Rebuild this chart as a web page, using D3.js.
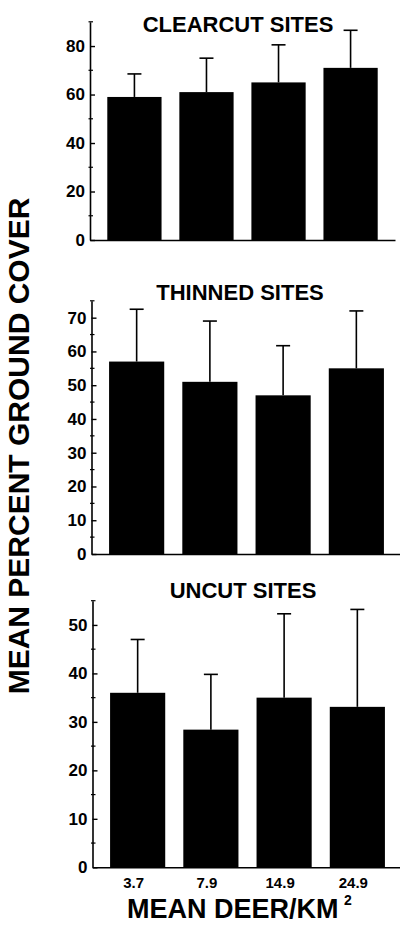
<!DOCTYPE html>
<html>
<head>
<meta charset="utf-8">
<script src="https://cdn.jsdelivr.net/npm/d3@7"></script>
<style>
  html, body { margin: 0; padding: 0; background: #fff; }
  svg { display: block; }
  text { font-family: "Liberation Sans", Arial, Helvetica, sans-serif; font-weight: bold; fill: #000; }
</style>
</head>
<body>
<svg id="chart" width="400" height="930"></svg>
<script>
// Deer density classes (mean deer per km²)
const categories = ["3.7", "7.9", "14.9", "24.9"];

// Mean percent ground cover and standard deviation, by stand type
const clearcutMeans = [59, 61, 65, 71];
const clearcutSD    = [9.5, 14, 15.5, 15.5];
const thinnedMeans  = [57, 51, 47, 55];
const thinnedSD     = [15.5, 18, 14.7, 17];
const uncutMeans    = [36, 28.4, 35, 33.1];
const uncutSD       = [11, 11.4, 17.3, 20.1];

// Y-axis ticks per panel
const clearcutTicks = [0, 20, 40, 60, 80];
const clearcutMinor = [10, 30, 50, 70, 90];
const thinnedTicks  = [0, 10, 20, 30, 40, 50, 60, 70];
const thinnedMinor  = [5, 15, 25, 35, 45, 55, 65, 75];
const uncutTicks    = [0, 10, 20, 30, 40, 50];
const uncutMinor    = [5, 15, 25, 35, 45, 55];

const panels = [
  { title: "CLEARCUT SITES", means: clearcutMeans, sd: clearcutSD, yMax: 90,
    ticks: clearcutTicks, minor: clearcutMinor,
    x0: 90, width: 305, base: 240, top: 21.8, titleX: 238, titleY: 32 },
  { title: "THINNED SITES", means: thinnedMeans, sd: thinnedSD, yMax: 75,
    ticks: thinnedTicks, minor: thinnedMinor,
    x0: 91.5, width: 310, base: 554, top: 300.8, titleX: 240, titleY: 300 },
  { title: "UNCUT SITES", means: uncutMeans, sd: uncutSD, yMax: 55,
    ticks: uncutTicks, minor: uncutMinor,
    x0: 92.5, width: 310, base: 867.3, top: 600.7, titleX: 243, titleY: 598, showX: true }
];

const svg = d3.select("#chart");

panels.forEach(p => {
  const x = d3.scaleBand()
    .domain(categories)
    .range([p.x0, p.x0 + p.width])
    .paddingInner(0.247)
    .paddingOuter(0.24);
  const y = d3.scaleLinear().domain([0, p.yMax]).range([p.base, p.top]);

  const g = svg.append("g");

  // bars
  g.selectAll("rect.bar")
    .data(p.means)
    .join("rect")
    .attr("class", "bar")
    .attr("x", (d, i) => x(categories[i]))
    .attr("width", x.bandwidth())
    .attr("y", d => y(d))
    .attr("height", d => y(0) - y(d))
    .attr("fill", "#000");

  // upper error bars (+1 SD)
  const err = g.selectAll("g.err")
    .data(p.means.map((m, i) => ({ m, s: p.sd[i], c: categories[i] })))
    .join("g")
    .attr("class", "err")
    .attr("transform", d => `translate(${x(d.c) + x.bandwidth() / 2},0)`);
  err.append("line")
    .attr("y1", d => y(d.m)).attr("y2", d => y(d.m + d.s))
    .attr("stroke", "#000").attr("stroke-width", 1.6);
  err.append("line")
    .attr("x1", -7).attr("x2", 7)
    .attr("y1", d => y(d.m + d.s)).attr("y2", d => y(d.m + d.s))
    .attr("stroke", "#000").attr("stroke-width", 1.6);

  // y axis with inward major ticks
  const yAxis = d3.axisLeft(y)
    .tickValues(p.ticks)
    .tickFormat(d3.format("d"))
    .tickSize(-5)
    .tickPadding(5)
    .tickSizeOuter(0);
  const ya = g.append("g")
    .attr("transform", `translate(${p.x0},0)`)
    .call(yAxis);
  ya.select(".domain").attr("stroke", "#000").attr("stroke-width", 1.6);
  ya.selectAll(".tick line").attr("stroke", "#000").attr("stroke-width", 1.4);
  ya.selectAll(".tick text")
    .style("font-size", "17px")
    .style("font-family", "'Liberation Sans', Arial, sans-serif")
    .style("font-weight", "bold")
    .attr("fill", "#000");

  // minor ticks
  g.selectAll("line.minor")
    .data(p.minor)
    .join("line")
    .attr("class", "minor")
    .attr("x1", p.x0 - 1.5).attr("x2", p.x0 + 3)
    .attr("y1", d => y(d)).attr("y2", d => y(d))
    .attr("stroke", "#000").attr("stroke-width", 1.2);

  // baseline
  const xAxis = d3.axisBottom(x).tickSize(0).tickPadding(10).tickSizeOuter(0);
  const xa = g.append("g")
    .attr("transform", `translate(0,${p.base})`)
    .call(xAxis);
  xa.select(".domain").attr("stroke", "#000").attr("stroke-width", 1.6);
  if (p.showX) {
    xa.selectAll(".tick text")
      .attr("dx", "-4")
      .style("font-size", "15px")
      .style("font-family", "'Liberation Sans', Arial, sans-serif")
      .style("font-weight", "bold")
      .attr("fill", "#000");
  } else {
    xa.selectAll(".tick text").remove();
  }

  // panel title
  g.append("text")
    .attr("x", p.titleX)
    .attr("y", p.titleY)
    .attr("text-anchor", "middle")
    .style("font-size", "22px")
    .text(p.title);
});

// shared axis titles
svg.append("text")
  .attr("transform", "translate(29,446) rotate(-90)")
  .attr("text-anchor", "middle")
  .style("font-size", "30px")
  .text("MEAN PERCENT GROUND COVER");

svg.append("text")
  .attr("x", 127)
  .attr("y", 918)
  .style("font-size", "27px")
  .text("MEAN DEER/KM");
svg.append("text")
  .attr("x", 344)
  .attr("y", 905)
  .style("font-size", "14px")
  .text("2");
</script>
</body>
</html>
